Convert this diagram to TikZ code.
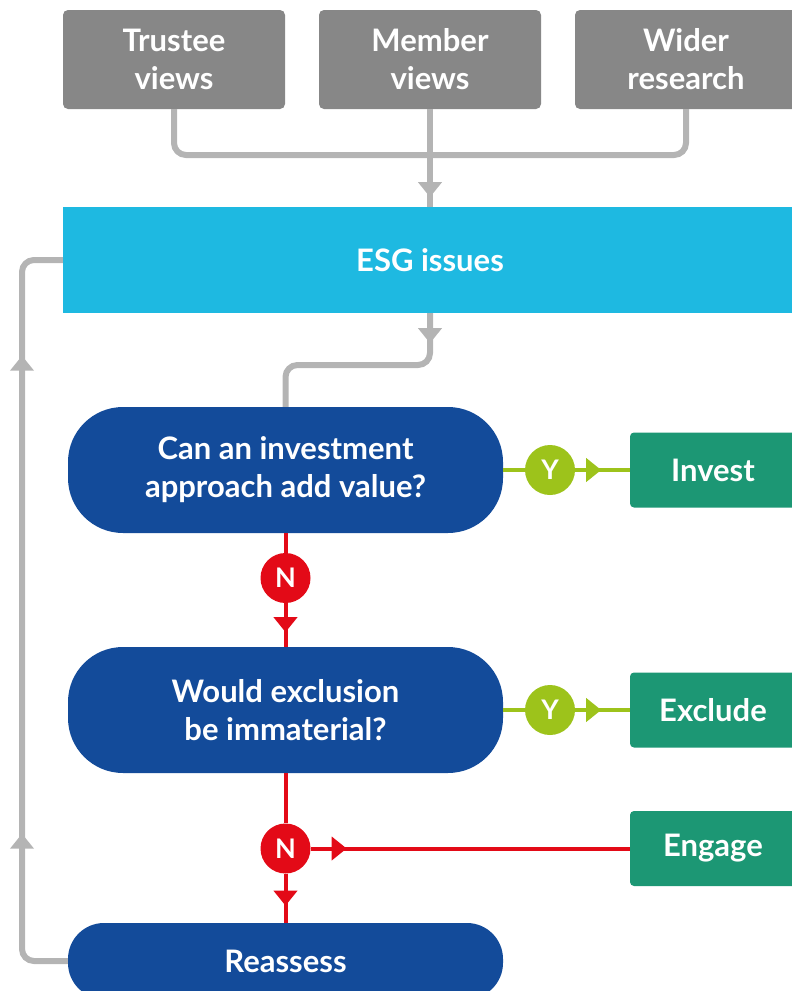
\documentclass[tikz,border=0pt]{standalone}
\usepackage{fontspec}
\setmainfont{Lato}
\usetikzlibrary{arrows.meta,decorations.markings}
\definecolor{srcgray}{HTML}{878787}
\definecolor{linegray}{HTML}{B4B4B4}
\definecolor{esgcyan}{HTML}{1EB9E1}
\definecolor{decblue}{HTML}{134B9A}
\definecolor{actgreen}{HTML}{1C9774}
\definecolor{yeslime}{HTML}{9DC31B}
\definecolor{nored}{HTML}{E30A17}
\newcommand{\flowfont}{\fontsize{31}{38}\selectfont\bfseries}
\tikzstyle{source} = [
  fill=srcgray,
  rounded corners=5pt,
  minimum width=222pt,
  minimum height=99pt,
  text=white,
  align=center,
  font=\flowfont,
]
\tikzstyle{issues} = [
  fill=esgcyan,
  minimum width=734pt,
  minimum height=106pt,
  text=white,
  font=\flowfont,
]
\tikzstyle{question} = [
  fill=decblue,
  rounded corners=55pt,
  minimum width=435pt,
  minimum height=126pt,
  text=white,
  align=center,
  font=\flowfont,
]
\tikzstyle{action} = [
  fill=actgreen,
  rounded corners=4pt,
  minimum width=166pt,
  minimum height=75pt,
  text=white,
  font=\flowfont,
]
\tikzstyle{answer} = [
  circle,
  minimum size=50pt,
  inner sep=0pt,
  text=white,
  font=\fontsize{27}{30}\selectfont\bfseries,
]
\tikzstyle{feed} = [
  draw=linegray,
  line width=6pt,
  rounded corners=12pt,
]
\tikzset{
  midtip/.style={
    postaction={decorate,
      decoration={markings,
        mark=at position #1 with {\arrow{Triangle[width=23pt,length=15pt]}}}}
  },
}

\begin{document}
\begin{tikzpicture}[
    x=1pt,
    y=-1pt,
  ]
  \useasboundingbox (0,0) rectangle (792,991);
  \clip (0,0) rectangle (792,991);
  % inputs
  \node[source] (trustee) at (174,59.5) {Trustee\\views};
  \node[source] (member) at (430,59.5) {Member\\views};
  \node[source] (wider) at (686,59.5) {Wider\\research};
  \node[issues] (esg) at (430,260) {ESG issues};
  % questions
  \node[question] (invq) at (285.5,470) {Can an investment\\approach add value?};
  \node[question] (exq) at (285.5,710) {Would exclusion\\be immaterial?};
  \node[question, rounded corners=36pt, minimum height=76pt]
    (reassess) at (285.5,961) {Reassess};
  % outcomes
  \node[action] (invest) at (713,470) {Invest};
  \node[action] (exclude) at (713,710) {Exclude};
  \node[action] (engage) at (713,848.5) {Engage};
  \node[answer, fill=yeslime] (yinv) at (550,470) {Y};
  \node[answer, fill=yeslime] (yex) at (550,710) {Y};
  \node[answer, fill=nored] (ninv) at (285.5,578) {N};
  \node[answer, fill=nored] (nex) at (285.5,848.5) {N};
  \coordinate (hub) at (430,155);
  \coordinate (bend) at (430,365);
  \coordinate (loop) at (22,260);
  % grey feeds
  \draw[feed] (trustee.south) |- (hub) -| (wider.south);
  \draw[feed, midtip=88pt] (member.south) -- (esg.north);
  \draw[feed, midtip=30pt] (esg.south) -- (bend) -| (invq.north);
  \draw[feed, midtip=168pt, midtip=646pt] (reassess.west) -| (loop) -- (esg.west);
  % yes / no
  \draw[yeslime, line width=4pt] (invq.east) -- (yinv.west);
  \draw[yeslime, line width=4pt, midtip=26pt] (yinv.east) -- (invest.west);
  \draw[yeslime, line width=4pt] (exq.east) -- (yex.west);
  \draw[yeslime, line width=4pt, midtip=26pt] (yex.east) -- (exclude.west);
  \draw[nored, line width=4pt] (invq.south) -- (ninv.north);
  \draw[nored, line width=4pt, midtip=29pt] (ninv.south) -- (exq.north);
  \draw[nored, line width=4pt] (exq.south) -- (nex.north);
  \draw[nored, line width=4pt, midtip=36pt] (nex.east) -- (engage.west);
  \draw[nored, line width=4pt, midtip=32pt] (nex.south) -- (reassess.north);
\end{tikzpicture}
\end{document}
